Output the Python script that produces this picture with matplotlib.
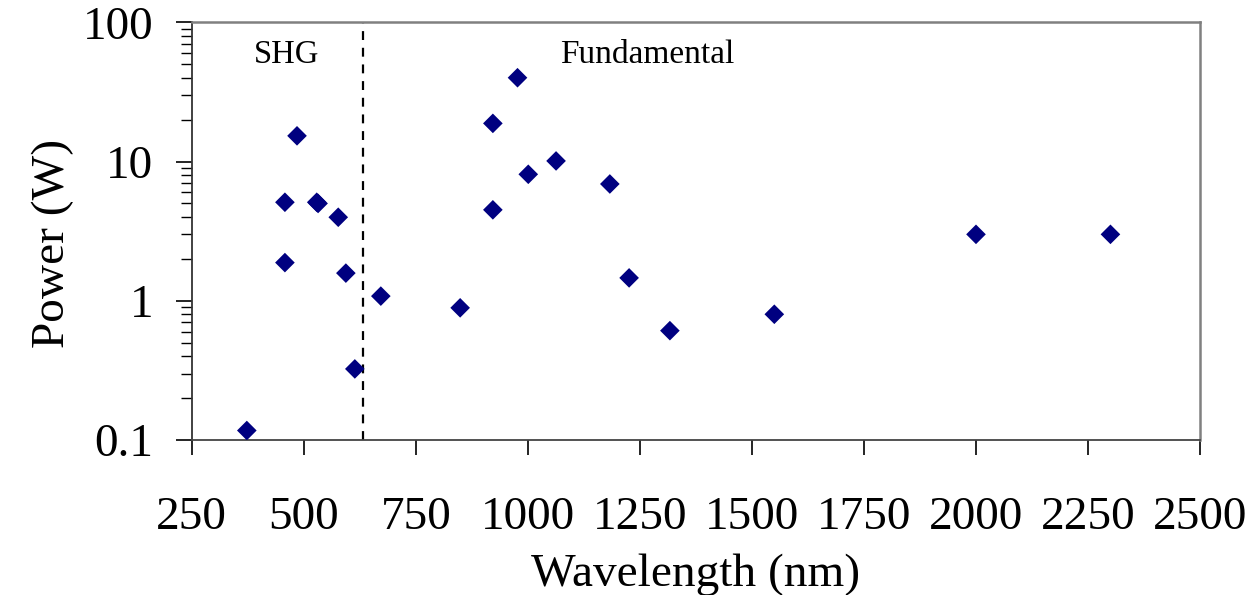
import matplotlib.pyplot as plt
from matplotlib.ticker import FixedLocator, LogLocator, NullFormatter

# wavelength (nm) and output power (W)
wavelength = [373, 458, 458, 485, 529, 532, 577, 594, 614,
              672, 849, 922, 922, 977, 1001, 1063, 1183, 1226, 1317, 1550, 2000, 2300]
power = [0.117, 5.1, 1.88, 15.3, 5.1, 5.0, 3.98, 1.58, 0.324,
         1.08, 0.89, 18.8, 4.5, 40, 8.1, 10.1, 6.9, 1.46, 0.61, 0.80, 3.0, 3.0]

shg_limit = 632
x_ticks = [250, 500, 750, 1000, 1250, 1500, 1750, 2000, 2250, 2500]
y_ticks = [0.1, 1, 10, 100]
y_ticklabels = ['0.1', '1', '10', '100']

plt.rcParams['font.family'] = ['Liberation Serif', 'DejaVu Serif']

fig = plt.figure(figsize=(12.48, 5.95), dpi=100)
ax = fig.add_axes([0.1536, 0.2605, 0.8080, 0.7020])

ax.scatter(wavelength, power, marker='D', s=100, color='#000080',
           edgecolors='none', zorder=3)
ax.axvline(shg_limit, color='black', linestyle=(0, (4, 3.5)), linewidth=1.6)

ax.set_yscale('log')
ax.set_xlim(250, 2500)
ax.set_ylim(0.1, 100)

ax.xaxis.set_major_locator(FixedLocator(x_ticks))
ax.set_yticks(y_ticks)
ax.set_yticklabels(y_ticklabels)
ax.yaxis.set_minor_locator(LogLocator(base=10, subs=range(2, 10)))
ax.yaxis.set_minor_formatter(NullFormatter())

ax.tick_params(axis='x', which='major', direction='out', length=11, width=1.2,
               labelsize=34, pad=30, colors='black')
ax.tick_params(axis='y', which='major', direction='out', length=11.5, width=1.2,
               labelsize=34, pad=16)
ax.tick_params(axis='y', which='minor', direction='out', length=8, width=1.0)

for side in ['top', 'right']:
    ax.spines[side].set_color('#808080')
    ax.spines[side].set_linewidth(1.8)
ax.spines['left'].set_color('#333333')
ax.spines['left'].set_linewidth(1.3)
ax.spines['bottom'].set_color('#444444')
ax.spines['bottom'].set_linewidth(1.3)

ax.set_xlabel('Wavelength (nm)', fontsize=34, labelpad=10)
ax.set_ylabel('Power (W)', fontsize=34)
ax.yaxis.set_label_coords(-0.117, 0.47)

ax.text(0.094, 0.923, 'SHG', transform=ax.transAxes, fontsize=23.5,
        ha='center', va='center')
ax.text(0.452, 0.923, 'Fundamental', transform=ax.transAxes, fontsize=24,
        ha='center', va='center')

fig.savefig('out.png', dpi=100)
